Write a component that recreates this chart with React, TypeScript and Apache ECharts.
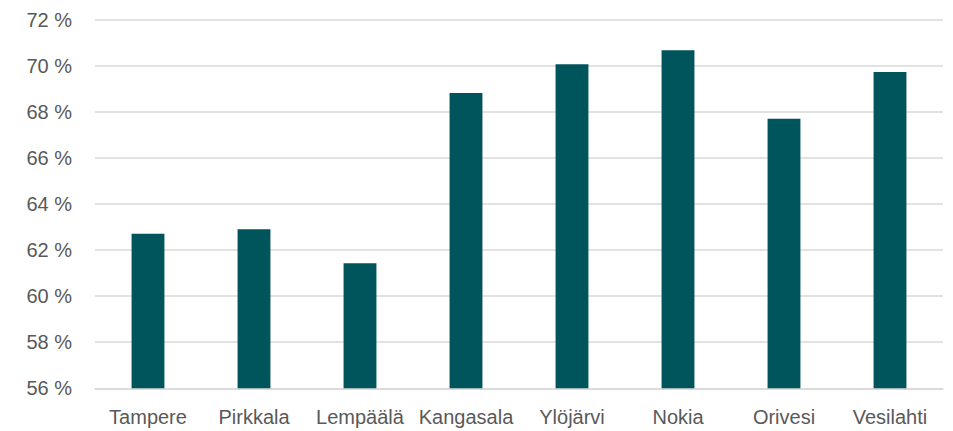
import React, { useEffect, useRef } from "react";
import * as echarts from "echarts";

const categories = ["Tampere", "Pirkkala", "Lempäälä", "Kangasala", "Ylöjärvi", "Nokia", "Orivesi", "Vesilahti"];
const values = [62.7, 62.9, 61.43, 68.81, 70.06, 70.67, 67.69, 69.72];
const yMin = 56;
const yMax = 72;
const yStep = 2;

const FONT = "Liberation Sans, Arial, sans-serif";

export default function App() {
  const ref = useRef<HTMLDivElement>(null);
  useEffect(() => {
    document.body.style.margin = "0";
    const chart = echarts.init(ref.current!, null, { renderer: "svg" });
    chart.setOption({
      animation: false,
      grid: { left: 95, right: 10, top: 19.5, bottom: 42.7, containLabel: false },
      xAxis: {
        type: "category",
        data: categories,
        axisLine: { show: true, lineStyle: { color: "#d9d9d9", width: 1.5 } },
        axisTick: { show: false },
        axisLabel: {
          color: "#595959",
          fontSize: 20,
          fontFamily: FONT,
          margin: 19,
          interval: 0,
        },
      },
      yAxis: {
        type: "value",
        min: yMin,
        max: yMax,
        interval: yStep,
        axisLine: { show: false },
        axisTick: { show: false },
        splitLine: { lineStyle: { color: "#d9d9d9", width: 1.5 } },
        axisLabel: {
          color: "#595959",
          fontSize: 20,
          fontFamily: FONT,
          margin: 23,
          formatter: (v: number) => `${v} %`,
        },
      },
      series: [
        {
          type: "bar",
          data: values,
          barWidth: "31%",
          itemStyle: { color: "#00545c" },
        },
      ],
    });
    return () => chart.dispose();
  }, []);
  return <div ref={ref} style={{ width: 953, height: 431 }} />;
}
